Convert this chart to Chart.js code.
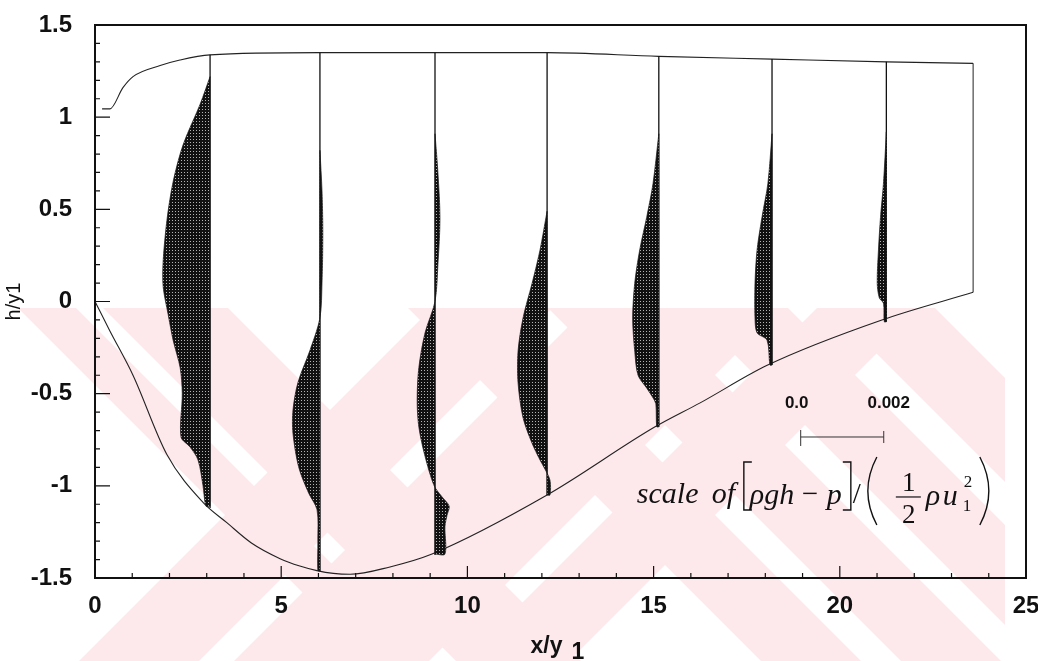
<!DOCTYPE html>
<html>
<head>
<meta charset="utf-8">
<script src="https://cdn.jsdelivr.net/npm/chart.js@4.4.1/dist/chart.umd.min.js"></script>
<style>
  html, body { margin: 0; padding: 0; background: #fff; }
  #wrap { width: 1038px; height: 661px; }
</style>
</head>
<body>
<div id="wrap"><canvas id="chart" width="1038" height="661"></canvas></div>
<script>
// free surface and channel bed (x/y1, h/y1)
const surfaceX = [0.19, 0.40, 0.75, 1.02, 1.75, 2.28, 3.09, 6.04, 9.13, 12.14, 15.14, 18.18, 21.25, 23.58];
const surfaceH = [1.045, 1.045, 1.16, 1.22, 1.28, 1.31, 1.338, 1.35, 1.35, 1.35, 1.33, 1.315, 1.30, 1.292];
const bedX = [0, 0.40, 1.02, 1.93, 2.90, 3.54, 4.20, 4.97, 5.50, 5.96, 6.40, 6.85, 7.92, 9.05, 12.14, 15.04, 16.25, 18.05, 21.13, 23.58];
const bedH = [0, -0.16, -0.40, -0.83, -1.09, -1.20, -1.31, -1.395, -1.435, -1.46, -1.475, -1.48, -1.44, -1.37, -1.05, -0.68, -0.55, -0.346, -0.10, 0.05];

// measuring stations and their vertical extent
const stationX = [3.09, 6.04, 9.13, 12.14, 15.14, 18.18, 21.25];
const stationTop = [1.338, 1.35, 1.35, 1.35, 1.33, 1.315, 1.30];
const stationBottom = [-1.12, -1.465, -1.375, -1.05, -0.68, -0.345, -0.11];
const endX = 23.58;
const endH = [0.05, 1.292];

// pressure profiles [rho g h - p]/(1/2 rho u1^2), values x 1e-3
const profile1H = [1.22, 1.07, 0.85, 0.65, 0.44, 0.22, 0.08, -0.07, -0.21, -0.36, -0.50, -0.735, -0.79, -0.86, -1.0, -1.11];
const profile1P = [0, -0.24, -0.65, -0.89, -1.04, -1.13, -1.13, -1.01, -0.89, -0.72, -0.67, -0.70, -0.48, -0.29, -0.17, -0.10];
const profile2H = [0.82, 0.6, 0.37, 0.1, -0.09, -0.265, -0.44, -0.59, -0.715, -0.9, -1.04, -1.13, -1.3, -1.46];
const profile2P = [0, 0.05, 0.07, 0.05, 0, -0.24, -0.53, -0.65, -0.65, -0.51, -0.27, -0.07, -0.05, -0.05];
const profile3H = [0.91, 0.7, 0.45, 0.2, 0.0, -0.17, -0.36, -0.535, -0.68, -0.84, -1.0, -1.06, -1.11, -1.16, -1.22, -1.37];
const profile3P = [0, 0.07, 0.12, 0.07, 0, -0.24, -0.39, -0.43, -0.39, -0.24, -0.02, 0.17, 0.34, 0.29, 0.24, 0.24];
const profile4H = [0.49, 0.28, 0.1, -0.09, -0.27, -0.44, -0.63, -0.77, -0.86, -0.91, -0.97, -1.05];
const profile4P = [0, -0.17, -0.36, -0.58, -0.70, -0.70, -0.58, -0.36, -0.17, -0.05, 0.07, 0.07];
const profile5H = [0.91, 0.64, 0.46, 0.28, 0.1, -0.09, -0.27, -0.40, -0.47, -0.53, -0.56, -0.68];
const profile5P = [0, -0.14, -0.29, -0.46, -0.58, -0.63, -0.58, -0.50, -0.29, -0.12, -0.07, -0.05];
const profile6H = [0.91, 0.64, 0.46, 0.28, 0.1, -0.09, -0.17, -0.21, -0.345];
const profile6P = [0, -0.10, -0.24, -0.36, -0.41, -0.41, -0.36, -0.12, -0.05];
const profile7H = [0.92, 0.64, 0.46, 0.28, 0.1, 0.02, -0.01, -0.11];
const profile7P = [0, -0.07, -0.14, -0.19, -0.22, -0.17, -0.07, -0.05];

// 0.002 of pressure is drawn as this many x/y1 units
const pressureScale = 2.23 / 0.002;
const scaleBarX = 18.95;
const scaleBarH = -0.735;

const profiles = [
    [profile1H, profile1P], [profile2H, profile2P], [profile3H, profile3P], [profile4H, profile4P],
    [profile5H, profile5P], [profile6H, profile6P], [profile7H, profile7P]
];

function toPoints(xs, ys) {
    return xs.map((x, i) => ({ x: x, y: ys[i] }));
}

// halftone-like fill
function makeHatch() {
    const c = document.createElement("canvas");
    c.width = 3; c.height = 3;
    const g = c.getContext("2d");
    g.fillStyle = "#111";
    g.fillRect(0, 0, 3, 3);
    g.fillStyle = "#b5b5b5";
    g.fillRect(1, 1, 1, 1);
    return g.createPattern(c, "repeat");
}

const hatch = makeHatch();
const datasets = [];

profiles.forEach((pr, i) => {
    const x0 = stationX[i];
    const hs = pr[0], ps = pr[1];
    const pts = hs.map((h, j) => ({ x: x0 + ps[j] / 1000 * pressureScale, y: h }));
    const last = hs[hs.length - 1];
    pts.push({ x: x0, y: last }, { x: x0, y: last }, { x: x0, y: hs[0] }, { x: x0, y: hs[0] });
    datasets.push({
        data: pts,
        showLine: true,
        fill: "shape",
        backgroundColor: hatch,
        borderColor: "#1a1a1a",
        borderWidth: 0.7,
        pointRadius: 0,
        tension: 0.3
    });
});

stationX.forEach((x0, i) => {
    datasets.push({
        data: [{ x: x0, y: stationBottom[i] }, { x: x0, y: stationTop[i] }],
        showLine: true,
        borderColor: "#111",
        borderWidth: 1.3,
        pointRadius: 0
    });
});

datasets.push({
    data: [{ x: endX, y: endH[0] }, { x: endX, y: endH[1] }],
    showLine: true,
    borderColor: "#222",
    borderWidth: 1,
    pointRadius: 0
});

datasets.push({
    data: toPoints(surfaceX, surfaceH),
    showLine: true,
    borderColor: "#222",
    borderWidth: 1.1,
    pointRadius: 0,
    cubicInterpolationMode: "monotone"
});

datasets.push({
    data: toPoints(bedX, bedH),
    showLine: true,
    borderColor: "#222",
    borderWidth: 1.1,
    pointRadius: 0,
    cubicInterpolationMode: "monotone"
});

// light pink watermark of the scanned page (diagonal bands, x-y and x+y ranges)
const watermarkBack = [[-290, -232], [-205, -80], [100, 200], [240, 340], [380, 480], [523, 627]];
const watermarkFwd = [[740, 860], [895, 1090], [1125, 1230]];

const background = {
    id: "background",
    beforeDraw(chart) {
        const ctx = chart.ctx;
        ctx.save();
        ctx.fillStyle = "#fff";
        ctx.fillRect(0, 0, chart.width, chart.height);
        ctx.beginPath();
        ctx.rect(0, 308, 1005, chart.height - 308);
        ctx.clip();
        ctx.fillStyle = "#fde8ec";
        const H = chart.height;
        watermarkBack.forEach(b => {
            ctx.beginPath();
            ctx.moveTo(b[0] + 308, 308);
            ctx.lineTo(b[1] + 308, 308);
            ctx.lineTo(b[1] + H, H);
            ctx.lineTo(b[0] + H, H);
            ctx.closePath();
            ctx.fill();
        });
        watermarkFwd.forEach(b => {
            ctx.beginPath();
            ctx.moveTo(b[0] - 308, 308);
            ctx.lineTo(b[1] - 308, 308);
            ctx.lineTo(b[1] - H, H);
            ctx.lineTo(b[0] - H, H);
            ctx.closePath();
            ctx.fill();
        });
        ctx.restore();
    }
};

const frame = {
    id: "frame",
    afterDatasetsDraw(chart) {
        const ctx = chart.ctx;
        const a = chart.chartArea;
        const xs = chart.scales.x, ys = chart.scales.y;
        ctx.save();
        ctx.strokeStyle = "#111";
        ctx.lineWidth = 2;
        ctx.strokeRect(a.left, a.top, a.right - a.left, a.bottom - a.top);

        // inward ticks
        ctx.lineWidth = 1.2;
        ctx.beginPath();
        for (let v = 0; v <= 25; v++) {
            const px = xs.getPixelForValue(v);
            const len = v % 5 === 0 ? 12 : 5;
            ctx.moveTo(px, a.bottom);
            ctx.lineTo(px, a.bottom - len);
        }
        for (let k = -15; k <= 15; k++) {
            const py = ys.getPixelForValue(k / 10);
            const len = k % 5 === 0 ? 15 : 5;
            ctx.moveTo(a.left, py);
            ctx.lineTo(a.left + len, py);
        }
        ctx.stroke();

        // x axis title
        ctx.fillStyle = "#111";
        ctx.textBaseline = "alphabetic";
        ctx.font = "bold 23px 'Liberation Sans', Arial, sans-serif";
        ctx.textAlign = "left";
        const cx = (a.left + a.right) / 2 - 30;
        ctx.fillText("x/y", cx, 653);
        ctx.fillText("1", cx + 41, 659);

        // scale bar
        const b0 = xs.getPixelForValue(scaleBarX);
        const b1 = xs.getPixelForValue(scaleBarX + 0.002 * pressureScale);
        const by = ys.getPixelForValue(scaleBarH);
        ctx.lineWidth = 1;
        ctx.strokeStyle = "#333";
        ctx.beginPath();
        ctx.moveTo(b0, by); ctx.lineTo(b1, by);
        ctx.moveTo(b0, by - 7); ctx.lineTo(b0, by + 9);
        ctx.moveTo(b1, by - 6); ctx.lineTo(b1, by + 6);
        ctx.stroke();
        ctx.font = "bold 17px 'Liberation Sans', Arial, sans-serif";
        ctx.textAlign = "center";
        ctx.textBaseline = "middle";
        ctx.fillText("0.0", b0 - 4, by - 34);
        ctx.fillText("0.002", b1 + 5, by - 34);

        // scale of [rho g h - p]/(1/2 rho u1^2)
        const base = xs.getPixelForValue(14.55);
        const yb = ys.getPixelForValue(-1.093);
        ctx.textAlign = "left";
        ctx.textBaseline = "alphabetic";
        ctx.font = "italic 30px 'Liberation Serif', 'Times New Roman', serif";
        ctx.fillText("scale", base, yb);
        ctx.fillText("of", base + 75, yb);
        ctx.fillText("\u03c1gh", base + 113, yb + 1);
        ctx.fillText("p", base + 190, yb + 1);
        ctx.font = "29px 'Liberation Serif', 'Times New Roman', serif";
        ctx.fillText("\u2212", base + 165, yb);
        ctx.fillText("/", base + 216, yb);
        ctx.lineWidth = 1.4;
        ctx.strokeStyle = "#111";
        ctx.beginPath();
        // brackets
        ctx.moveTo(base + 115, yb - 41); ctx.lineTo(base + 107, yb - 41);
        ctx.lineTo(base + 107, yb + 7); ctx.lineTo(base + 115, yb + 7);
        ctx.moveTo(base + 206, yb - 41); ctx.lineTo(base + 214, yb - 41);
        ctx.lineTo(base + 214, yb + 7); ctx.lineTo(base + 206, yb + 7);
        ctx.stroke();
        // tall parentheses
        ctx.beginPath();
        ctx.moveTo(base + 240, yb - 46);
        ctx.quadraticCurveTo(base + 222, yb - 12, base + 240, yb + 22);
        ctx.moveTo(base + 343, yb - 46);
        ctx.quadraticCurveTo(base + 361, yb - 12, base + 343, yb + 22);
        ctx.stroke();
        // fraction 1/2
        ctx.lineWidth = 1.2;
        ctx.beginPath();
        ctx.moveTo(base + 259, yb - 6); ctx.lineTo(base + 284, yb - 6);
        ctx.stroke();
        ctx.textAlign = "center";
        ctx.font = "27px 'Liberation Serif', 'Times New Roman', serif";
        ctx.fillText("1", base + 272, yb - 12);
        ctx.fillText("2", base + 272, yb + 20);
        ctx.textAlign = "left";
        ctx.font = "italic 30px 'Liberation Serif', 'Times New Roman', serif";
        ctx.fillText("\u03c1", base + 289, yb + 2);
        ctx.fillText("u", base + 306, yb + 2);
        ctx.font = "17px 'Liberation Serif', 'Times New Roman', serif";
        ctx.fillText("2", base + 327, yb - 16);
        ctx.fillText("1", base + 326, yb + 8);
        ctx.restore();
    }
};

function tidyX(s) {
    s.height = 83;
    s.paddingLeft = 0; s.paddingRight = 0;
}

function tidyY(s) {
    s.width = 95;
    s.paddingTop = 0; s.paddingBottom = 0;
}

new Chart(document.getElementById("chart"), {
    type: "scatter",
    data: { datasets: datasets },
    options: {
        responsive: false,
        animation: false,
        events: [],
        layout: { padding: { left: 0, right: 12, top: 25, bottom: 0 } },
        plugins: { legend: { display: false }, tooltip: { enabled: false } },
        scales: {
            x: {
                type: "linear",
                min: 0,
                max: 25,
                afterFit: tidyX,
                grid: { display: false, drawTicks: false },
                border: { display: false },
                ticks: {
                    stepSize: 5,
                    padding: 14,
                    color: "#111",
                    font: { family: "'Liberation Sans', Arial, sans-serif", size: 24, weight: "bold" }
                }
            },
            y: {
                type: "linear",
                min: -1.5,
                max: 1.5,
                afterFit: tidyY,
                grid: { display: false, drawTicks: false },
                border: { display: false },
                title: {
                    display: true,
                    text: "h/y1",
                    color: "#111",
                    padding: { top: 2, bottom: 0 },
                    font: { family: "'Liberation Sans', Arial, sans-serif", size: 20 }
                },
                ticks: {
                    stepSize: 0.5,
                    padding: 23,
                    color: "#111",
                    callback: v => String(v),
                    font: { family: "'Liberation Sans', Arial, sans-serif", size: 24, weight: "bold" }
                }
            }
        }
    },
    plugins: [background, frame]
});
</script>
</body>
</html>
